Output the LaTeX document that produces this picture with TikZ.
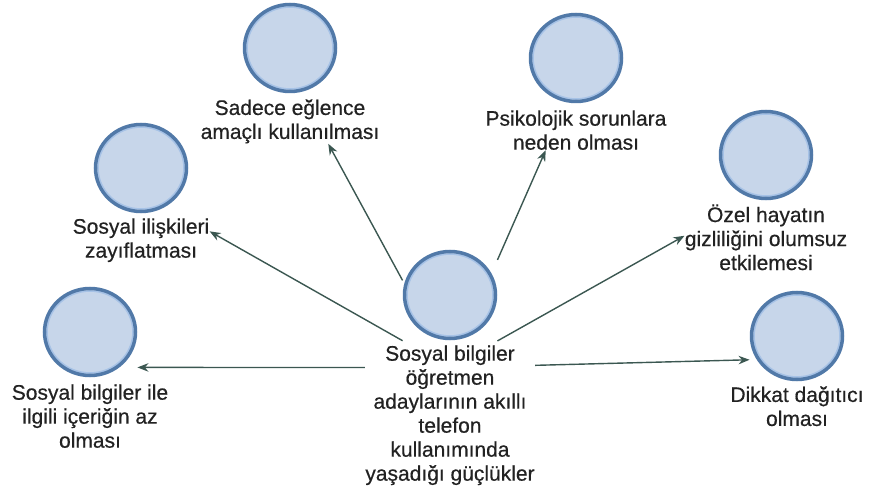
\documentclass[tikz,border=0pt]{standalone}
\usepackage{fontspec}
\setmainfont{Liberation Sans}
\newfontfamily\capfont{Liberation Sans}[FakeBold=0.5]
\usepackage{xcolor}
\usetikzlibrary{positioning,fit,shapes.geometric,arrows.meta}
\definecolor{bubblefill}{HTML}{C7D6EA}
\definecolor{bubbleline}{HTML}{5179A8}
\definecolor{bubblering}{HTML}{A6C2E6}
\definecolor{linkcol}{HTML}{3B5751}
\definecolor{textcol}{HTML}{222222}
\tikzset{
bubble/.style={ellipse, fill=bubblefill, draw=bubbleline, line width=3.5pt, minimum width=91pt, minimum height=87pt, inner sep=0pt,
  path picture={\draw[bubblering, line width=1.6pt] (path picture bounding box.center) ellipse [x radius=43pt, y radius=41pt];}},
caption/.style={align=center, inner sep=0pt, text=textcol, font=\capfont\fontsize{21}{24}\selectfont},
group/.style={inner sep=0pt},
link/.style={draw=linkcol, line width=1.4pt, -{Stealth[length=11pt,width=8.5pt]}}
}

\begin{document}
\begin{tikzpicture}[x=1pt,y=-1pt]
\useasboundingbox (0,0) rectangle (870,486);
% bubbles
\node[bubble] (hubc) at (450,295) {};
\node[bubble] (blc) at (90,332) {};
\node[bubble] (sdc) at (290,48) {};
\node[bubble] (psc) at (576,58) {};
\node[bubble] (sic) at (141,168) {};
\node[bubble] (ozc) at (766,155) {};
\node[bubble] (dkc) at (797,336) {};

% captions
\node[caption, below=5pt of hubc] (hubt) {Sosyal bilgiler\\öğretmen\\adaylarının akıllı\\telefon\\kullanımında\\yaşadığı güçlükler};
\node[caption, below=7pt of blc] (blt) {Sosyal bilgiler ile\\ilgili içeriğin az\\olması};
\node[caption, below=6pt of sdc] (sdt) {Sadece eğlence\\amaçlı kullanılması};
\node[caption, below=7pt of psc] (pst) {Psikolojik sorunlara\\neden olması};
\node[caption, below=5pt of sic] (sit) {Sosyal ilişkileri\\zayıflatması};
\node[caption, below=4pt of ozc] (ozt) {Özel hayatın\\gizliliğini olumsuz\\etkilemesi};
\node[caption, below=5pt of dkc] (dkt) {Dikkat dağıtıcı\\olması};

% bubble + caption groups
\node[group, fit=(hubc)(hubc.south |- hubt.south)] (hub) {};
\node[group, fit=(hubc)(hubt)] (hubwide) {};
\node[group, fit=(blc)(blc.south |- blt.south)] (bl) {};
\node[group, fit=(sdc)(sdt)] (sd) {};
\node[group, fit=(psc)(pst)] (ps) {};
\node[group, fit=(sic)(sit)] (si) {};
\node[group, fit=(ozc)(ozt)] (oz) {};
\node[group, fit=(dkc)(dkc.south |- dkt.south)] (dk) {};

\draw[link] (hubwide) -- (bl);
\draw[link] (hub) -- (si);
\draw[link] (hub) -- (sd);
\draw[link] (hub) -- (ps);
\draw[link] (hub) -- (oz);
\draw[link] (hubwide) -- (dk);
\end{tikzpicture}
\end{document}
